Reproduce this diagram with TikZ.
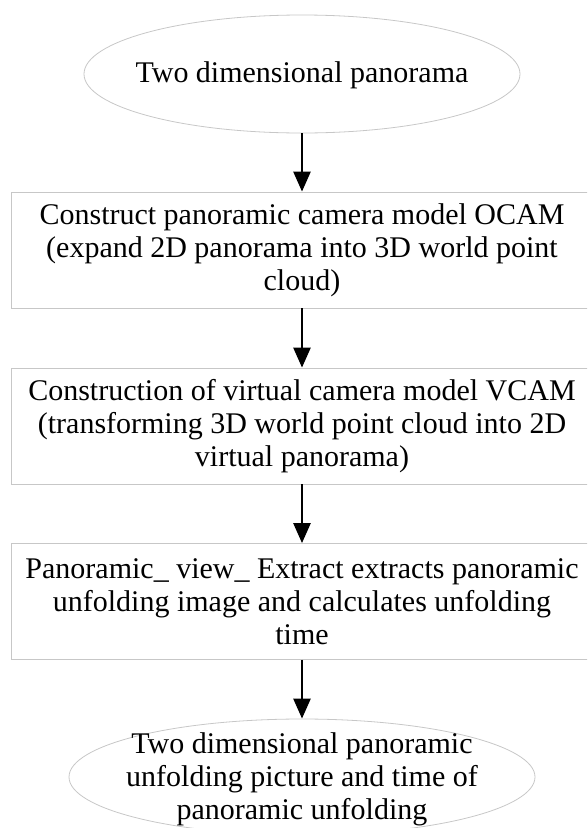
\documentclass[tikz,border=0pt]{standalone}
\usepackage{fontspec}
\setmainfont{Liberation Serif}
\usetikzlibrary{shapes.geometric,arrows.meta}
\tikzset{
  txt/.style={align=center, inner sep=0pt, text=black, font=\fontsize{30}{33}\selectfont},
  base/.style={draw=black!22, line width=0.8pt, inner sep=0pt},
  oval/.style={base, ellipse},
  stepbox/.style={base, txt, rectangle, minimum width=582pt, minimum height=116pt},
  flow/.style={line width=2.6pt, -{Triangle[length=20pt,width=17pt]}}
}
\begin{document}
\begin{tikzpicture}[x=1pt,y=-1pt]
\useasboundingbox (0,0) rectangle (587,828);
\clip (0,0) rectangle (587,828);
\node[oval, minimum width=436pt, minimum height=118pt] (start) at (302,74) {};
\node[txt] (starttext) at ([yshift=-1pt]start.center) {Two dimensional panorama};
\node[stepbox] (ocam) at (302,250) {Construct panoramic camera model OCAM\\(expand 2D panorama into 3D world point\\cloud)};
\node[stepbox] (vcam) at (302,426) {Construction of virtual camera model VCAM\\(transforming 3D world point cloud into 2D\\virtual panorama)};
\node[stepbox] (extract) at (302,601.5) {Panoramic\_ view\_ Extract extracts panoramic\\unfolding image and calculates unfolding\\time};
\node[oval, minimum width=466pt, minimum height=116pt] (result) at (302,777) {};
\node[txt] (resulttext) at ([yshift=-2pt]result.center) {Two dimensional panoramic\\unfolding picture and time of\\panoramic unfolding};
\draw[flow] (start) -- (ocam);
\draw[flow] (ocam) -- (vcam);
\draw[flow] (vcam) -- (extract);
\draw[flow] (extract) -- (result);
\end{tikzpicture}
\end{document}
